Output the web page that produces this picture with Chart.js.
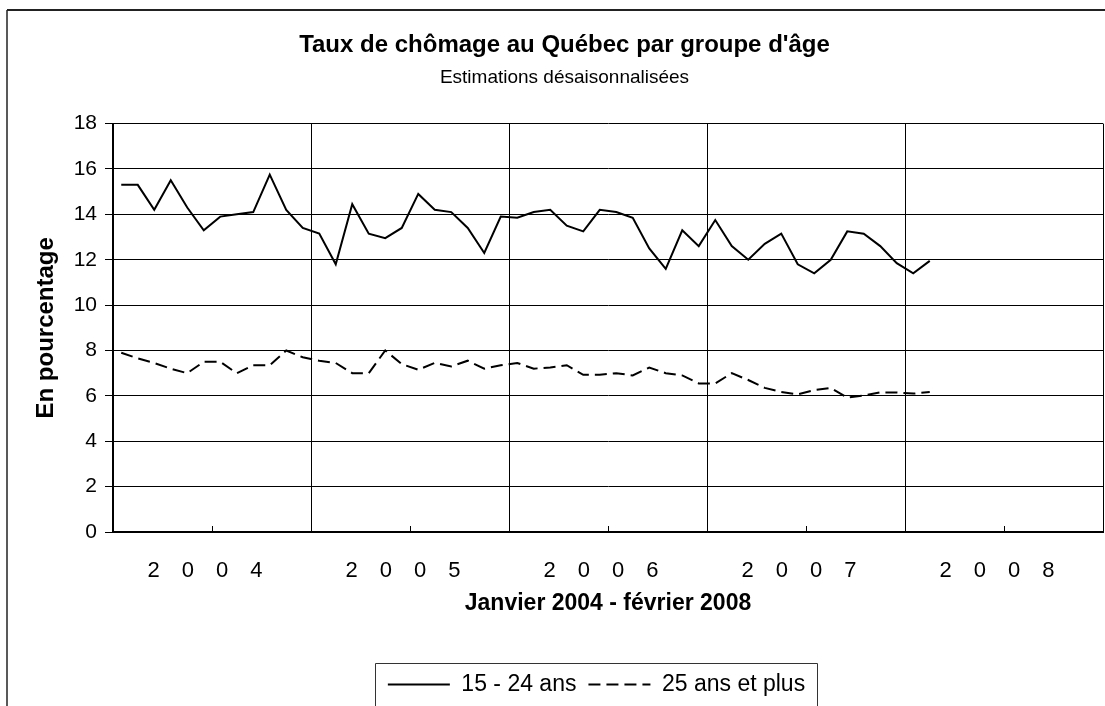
<!DOCTYPE html>
<html>
<head>
<meta charset="utf-8">
<script src="https://cdn.jsdelivr.net/npm/chart.js@4.4.1/dist/chart.umd.min.js"></script>
<style>
  html, body { margin: 0; padding: 0; background: #fff; }
  canvas { display: block; }
</style>
</head>
<body>
<canvas id="c" width="1105" height="706"></canvas>
<script>
// ---- Data (janvier 2004 - février 2008, monthly) ----
const years = ['2004', '2005', '2006', '2007', '2008'];
const xTickLabels = ['2 0 0 4', '2 0 0 5', '2 0 0 6', '2 0 0 7', '2 0 0 8'];
const monthNames = ['janv.', 'févr.', 'mars', 'avr.', 'mai', 'juin', 'juil.', 'août', 'sept.', 'oct.', 'nov.', 'déc.'];

const jeunes15_24 = [
  15.3, 15.3, 14.2, 15.5, 14.3, 13.3, 13.9, 14.0, 14.1, 15.75, 14.2, 13.4,
  13.15, 11.8, 14.45, 13.15, 12.95, 13.4, 14.9, 14.2, 14.1, 13.4, 12.3, 13.9,
  13.85, 14.1, 14.2, 13.5, 13.25, 14.2, 14.1, 13.85, 12.5, 11.6, 13.3, 12.6,
  13.75, 12.6, 12.0, 12.7, 13.15, 11.8, 11.4, 12.0, 13.25, 13.15, 12.6, 11.85,
  11.4, 11.95
];
const adultes25plus = [
  7.9, 7.65, 7.45, 7.2, 7.0, 7.5, 7.5, 7.0, 7.35, 7.35, 8.0, 7.7,
  7.55, 7.45, 7.0, 7.0, 8.0, 7.4, 7.15, 7.45, 7.3, 7.55, 7.2, 7.35,
  7.45, 7.2, 7.25, 7.35, 6.93, 6.93, 7.0, 6.9, 7.25, 7.0, 6.9, 6.55,
  6.55, 7.0, 6.7, 6.35, 6.17, 6.07, 6.25, 6.35, 5.92, 6.02, 6.15, 6.15,
  6.1, 6.17
];
const yTicks = [0, 2, 4, 6, 8, 10, 12, 14, 16, 18];

const seriesNames = ['15 - 24 ans', '25 ans et plus'];
const titleText = "Taux de chômage au Québec par groupe d'âge";
const subtitleText = 'Estimations désaisonnalisées';
const xTitleText = 'Janvier 2004 - février 2008';
const yTitleText = 'En pourcentage';

// month categories (one per data point)
const months = [];
years.forEach(y => monthNames.forEach(m => months.push(m + ' ' + y)));
const monthsPerYear = 12;

function toPoints(arr) {
  return arr.map((v, i) => ({ x: i + 0.5, y: v, label: months[i] }));
}

const FONT = "'Liberation Sans', Arial, Helvetica, sans-serif";
Chart.defaults.font.family = FONT;
Chart.defaults.color = '#000';

const spread = s => s.split(' ').join('\u2002\u2002');

const decorPlugin = {
  id: 'decor',
  afterLayout(chart) {
    chart.boxes.forEach(b => {
      if (b.options && (b.options.text === titleText || b.options.text === subtitleText)) {
        b.left += 13; b.right += 13;
      }
    });
    const lg = chart.legend;
    if (lg) { lg.left += 45; lg.right += 45; }
  },
  beforeDraw(chart) {
    const ctx = chart.ctx;
    ctx.save();
    ctx.fillStyle = '#fff';
    ctx.fillRect(0, 0, chart.width, chart.height);
    ctx.strokeStyle = '#222';
    ctx.lineWidth = 2;
    ctx.beginPath();
    ctx.moveTo(7, 10); ctx.lineTo(chart.width, 10);
    ctx.stroke();
    ctx.lineWidth = 1.5;
    ctx.beginPath();
    ctx.moveTo(7, 10); ctx.lineTo(7, chart.height);
    ctx.stroke();
    ctx.restore();
  },
  afterDraw(chart) {
    const ctx = chart.ctx;
    const xs = chart.scales.x;
    const bottom = chart.chartArea.bottom;
    ctx.save();
    ctx.strokeStyle = '#000';
    ctx.lineWidth = 1;
    years.forEach((y, i) => {
      const px = Math.round(xs.getPixelForValue(i * monthsPerYear + monthsPerYear / 2)) + 0.5;
      ctx.beginPath();
      ctx.moveTo(px, bottom);
      ctx.lineTo(px, bottom - 6);
      ctx.stroke();
    });
    const lg = chart.legend;
    if (lg && lg.legendHitBoxes && lg.legendHitBoxes.length) {
      const hb = lg.legendHitBoxes;
      const first = hb[0], last = hb[hb.length - 1];
      const l = first.left - 13;
      const r = last.left + last.width + 12;
      const midY = first.top + first.height / 2;
      const t = Math.round(midY - 22) + 0.5;
      ctx.strokeStyle = '#333';
      ctx.lineWidth = 1;
      ctx.beginPath();
      ctx.moveTo(Math.round(l) + 0.5, chart.height + 2);
      ctx.lineTo(Math.round(l) + 0.5, t);
      ctx.lineTo(Math.round(r) + 0.5, t);
      ctx.lineTo(Math.round(r) + 0.5, chart.height + 2);
      ctx.stroke();
    }
    ctx.restore();
  }
};

new Chart(document.getElementById('c'), {
  type: 'line',
  data: {
    datasets: [
      {
        label: seriesNames[0],
        data: toPoints(jeunes15_24),
        borderColor: '#000',
        backgroundColor: '#000',
        borderWidth: 2,
        pointRadius: 0,
        tension: 0,
        fill: false
      },
      {
        label: seriesNames[1],
        data: toPoints(adultes25plus),
        borderColor: '#000',
        backgroundColor: '#000',
        borderWidth: 2,
        borderDash: [12, 6],
        pointRadius: 0,
        tension: 0,
        fill: false
      }
    ]
  },
  options: {
    responsive: false,
    devicePixelRatio: 1,
    animation: false,
    layout: { padding: { left: 0, right: 2, top: 0, bottom: 0 } },
    plugins: {
      title: {
        display: true,
        text: titleText,
        color: '#000',
        font: { size: 24, weight: 'bold', family: FONT },
        padding: { top: 31, bottom: 0 }
      },
      subtitle: {
        display: true,
        text: subtitleText,
        color: '#000',
        font: { size: 19, weight: 'normal', family: FONT },
        padding: { top: 7, bottom: 34 }
      },
      legend: {
        display: true,
        position: 'bottom',
        labels: {
          usePointStyle: true,
          pointStyle: 'line',
          pointStyleWidth: 62,
          padding: 12,
          color: '#000',
          font: { size: 23, family: FONT },
          generateLabels(chart) {
            const items = Chart.defaults.plugins.legend.labels.generateLabels(chart);
            items.forEach(it => {
              const ds = chart.data.datasets[it.datasetIndex];
              it.lineDash = ds.borderDash || [];
              it.lineWidth = ds.borderWidth;
              it.strokeStyle = ds.borderColor;
              it.pointStyle = 'line';
            });
            return items;
          }
        }
      },
      tooltip: { enabled: false }
    },
    scales: {
      x: {
        type: 'linear',
        min: 0,
        max: years.length * monthsPerYear,
        afterBuildTicks(scale) {
          const t = [];
          for (let v = 0; v <= years.length * monthsPerYear; v += monthsPerYear / 2) t.push({ value: v });
          scale.ticks = t;
        },
        afterFit(scale) {
          scale.height = 129;
          scale.paddingLeft = 0;
          scale.paddingRight = 0;
        },
        grid: {
          drawTicks: false,
          color: ctx => (ctx.tick && ctx.tick.value % monthsPerYear === 0) ? '#000' : 'rgba(0,0,0,0)',
          lineWidth: 1
        },
        border: { display: true, color: '#000', width: 2 },
        ticks: {
          autoSkip: false,
          maxRotation: 0,
          padding: 26,
          labelOffset: -7,
          color: '#000',
          font: { size: 22, family: FONT },
          callback: v => (v % monthsPerYear === monthsPerYear / 2) ? spread(xTickLabels[(v - monthsPerYear / 2) / monthsPerYear]) : ''
        },
        title: {
          display: true,
          text: xTitleText,
          color: '#000',
          font: { size: 23, weight: 'bold', family: FONT },
          padding: { top: 0, bottom: 44 }
        }
      },
      y: {
        min: 0,
        max: 18,
        afterBuildTicks(scale) { scale.ticks = yTicks.map(v => ({ value: v })); },
        afterFit(scale) { scale.width = 113; },
        grid: {
          color: '#000',
          lineWidth: 1,
          drawTicks: true,
          tickLength: 8,
          tickColor: '#000'
        },
        border: { display: true, color: '#000', width: 2 },
        ticks: {
          padding: 8,
          color: '#000',
          font: { size: 21, family: FONT }
        },
        title: {
          display: true,
          text: yTitleText,
          color: '#000',
          font: { size: 24, weight: 'bold', family: FONT },
          padding: { top: 32, bottom: 0 }
        }
      }
    }
  },
  plugins: [decorPlugin]
});
</script>
</body>
</html>
